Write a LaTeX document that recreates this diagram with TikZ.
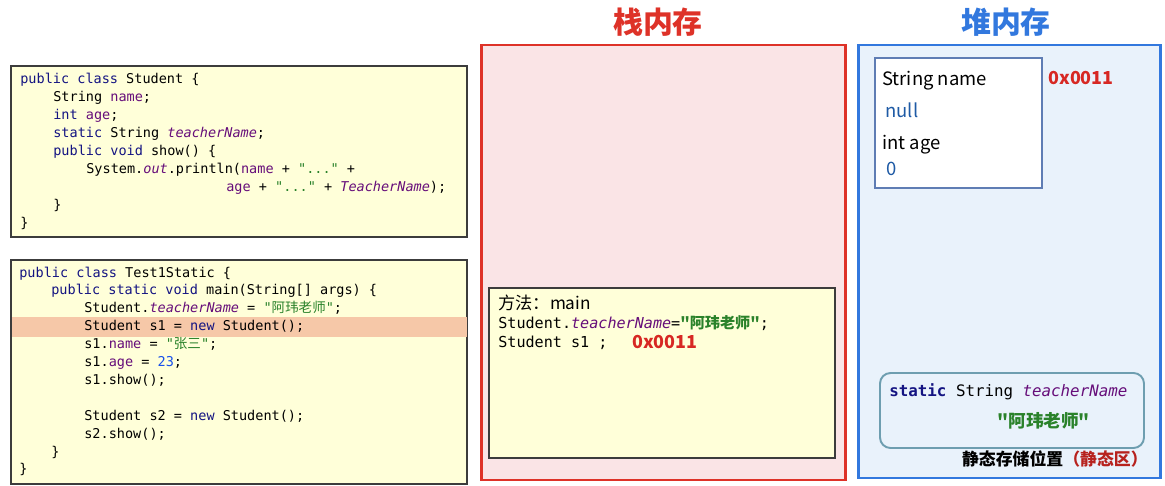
\documentclass[tikz,border=0pt]{standalone}
\usepackage{fontspec}
\setmainfont{Noto Sans CJK SC}
\setmonofont{DejaVu Sans Mono}
\newfontfamily\cjk{Noto Sans CJK SC}

\definecolor{codefill}{RGB}{255,255,217}
\definecolor{hlfill}{RGB}{246,200,168}
\definecolor{stackfill}{RGB}{250,228,230}
\definecolor{stackred}{RGB}{222,50,40}
\definecolor{heapfill}{RGB}{233,242,251}
\definecolor{heapblue}{RGB}{50,120,222}
\definecolor{objline}{RGB}{95,125,180}
\definecolor{statline}{RGB}{110,158,176}
\definecolor{kwnavy}{RGB}{20,20,130}
\definecolor{fldpurple}{RGB}{102,14,122}
\definecolor{strgreen}{RGB}{42,130,42}
\definecolor{numblue}{RGB}{23,80,235}
\definecolor{valblue}{RGB}{30,90,165}
\definecolor{addrred}{RGB}{215,40,35}
\definecolor{zoneline}{RGB}{60,60,60}

\newcommand\jkw[1]{\textcolor{kwnavy}{#1}}
\newcommand\jfld[1]{\textcolor{fldpurple}{#1}}
\newcommand\jit[1]{\textcolor{fldpurple}{\textit{#1}}}
\newcommand\jstr[1]{\textcolor{strgreen}{#1}}
\newcommand\jnum[1]{\textcolor{numblue}{#1}}

\tikzset{
  codeframe/.style={draw=zoneline,line width=0.85pt,fill=codefill},
  codeln/.style={anchor=base west,inner sep=0pt,font=\ttfamily\fontsize{7.7}{9}\selectfont},
  frameln/.style={anchor=base west,inner sep=0pt,font=\ttfamily\fontsize{8.6}{10}\selectfont},
  heapln/.style={anchor=base west,inner sep=0pt,font=\fontsize{10.5}{12}\selectfont},
  addr/.style={anchor=base west,inner sep=0pt,text=addrred,font=\bfseries\fontsize{10.2}{12}\selectfont},
  zonetitle/.style={inner sep=0pt,font=\bfseries\fontsize{17}{20}\selectfont},
}

\begin{document}
\begin{tikzpicture}[x=0.02cm,y=-0.02cm]
  \useasboundingbox[fill=white] (0,0) rectangle (1165,486);

  % Class Student source
  \draw[codeframe] (11,66) rectangle (467,237);
  \node[codeln] (sa) at (20,84) {\jkw{public} \jkw{class} Student \{};
  \node[codeln] (sb) at (53,101.9) {String \jfld{name};};
  \node[codeln] (sc) at (53,119.8) {\jkw{int} \jfld{age};};
  \node[codeln] (sd) at (53,137.7) {\jkw{static} String \jit{teacherName};};
  \node[codeln] (se) at (53,155.6) {\jkw{public} \jkw{void} show() \{};
  \node[codeln] (sf) at (86,173.5) {System.\jit{out}.println(\jfld{name} + \jstr{"..."} +};
  \node[codeln] (sg) at (226,191.4) {\jfld{age} + \jstr{"..."} + \jit{TeacherName});};
  \node[codeln] (sh) at (53,209.3) {\}};
  \node[codeln] (si) at (20,227.2) {\}};

  % Class Test1Static source
  \draw[codeframe] (11,260) rectangle (467,484);
  \fill[hlfill] (11.5,317) rectangle (466.5,337);
  \node[codeln] (ta) at (19,277) {\jkw{public} \jkw{class} Test1Static \{};
  \node[codeln] (tb) at (51,294.9) {\jkw{public} \jkw{static} \jkw{void} main(String[] args) \{};
  \node[codeln] (tc) at (84,312.8) {Student.\jit{teacherName} = \jstr{"{\cjk 阿玮老师}"};};
  \node[codeln] (td) at (84,330.7) {Student s1 = \jkw{new} Student();};
  \node[codeln] (te) at (84,348.6) {s1.\jfld{name} = \jstr{"{\cjk 张三}"};};
  \node[codeln] (tf) at (84,366.5) {s1.\jfld{age} = \jnum{23};};
  \node[codeln] (tg) at (84,384.4) {s1.show();};
  \node[codeln] (th) at (84,420.2) {Student s2 = \jkw{new} Student();};
  \node[codeln] (ti) at (84,438.1) {s2.show();};
  \node[codeln] (tj) at (51,456) {\}};
  \node[codeln] (tk) at (19,473.9) {\}};

  % Stack memory
  \node[zonetitle,text=stackred] (stacktitle) at (658,22) {栈内存};
  \draw[stackred,fill=stackfill,line width=1.7pt] (481,45) rectangle (845,480);
  \draw[codeframe] (489,288) rectangle (835,458);
  \node[heapln,font=\fontsize{9.8}{12}\selectfont] (method) at (498,309) {方法：main};
  \node[frameln] (frstatic) at (498,328) {Student.\jit{teacherName}=\textcolor{strgreen}{\cjk\bfseries "阿玮老师"};};
  \node[frameln] (frs1) at (498,347) {Student s1 ;};
  \node[addr] (s1addr) at (632,348) {0x0011};

  % Heap memory
  \node[zonetitle,text=heapblue] (heaptitle) at (1006,22) {堆内存};
  \draw[heapblue,fill=heapfill,line width=1.7pt] (858,45) rectangle (1160,478);

  % Student object
  \draw[objline,fill=white,line width=1.1pt] (875,58) rectangle (1042,188);
  \node[heapln] (fname) at (882,86) {String name};
  \node[heapln,text=valblue] (vname) at (885,118) {null};
  \node[heapln] (fage) at (882,150) {int age};
  \node[heapln,text=valblue] (vage) at (886,175) {0};
  \node[addr] (objaddr) at (1048,85) {0x0011};

  % Static area
  \draw[statline,fill=heapfill,line width=1.1pt,rounded corners=6pt] (880,373) rectangle (1144,448);
  \node[anchor=base west,inner sep=0pt,font=\ttfamily\fontsize{9}{11}\selectfont] (statdecl) at (889,396)
    {\textbf{\jkw{static}} String \jit{teacherName}};
  \node[anchor=base west,inner sep=0pt,text=strgreen,font=\cjk\bfseries\fontsize{10}{12}\selectfont] (statval) at (997,427) {"阿玮老师"};
  \node[anchor=base east,inner sep=0pt,font=\bfseries\fontsize{9.6}{12}\selectfont] (statzone) at (1148,465)
    {静态存储位置\textcolor{addrred!85!black}{（静态区）}};
\end{tikzpicture}
\end{document}
